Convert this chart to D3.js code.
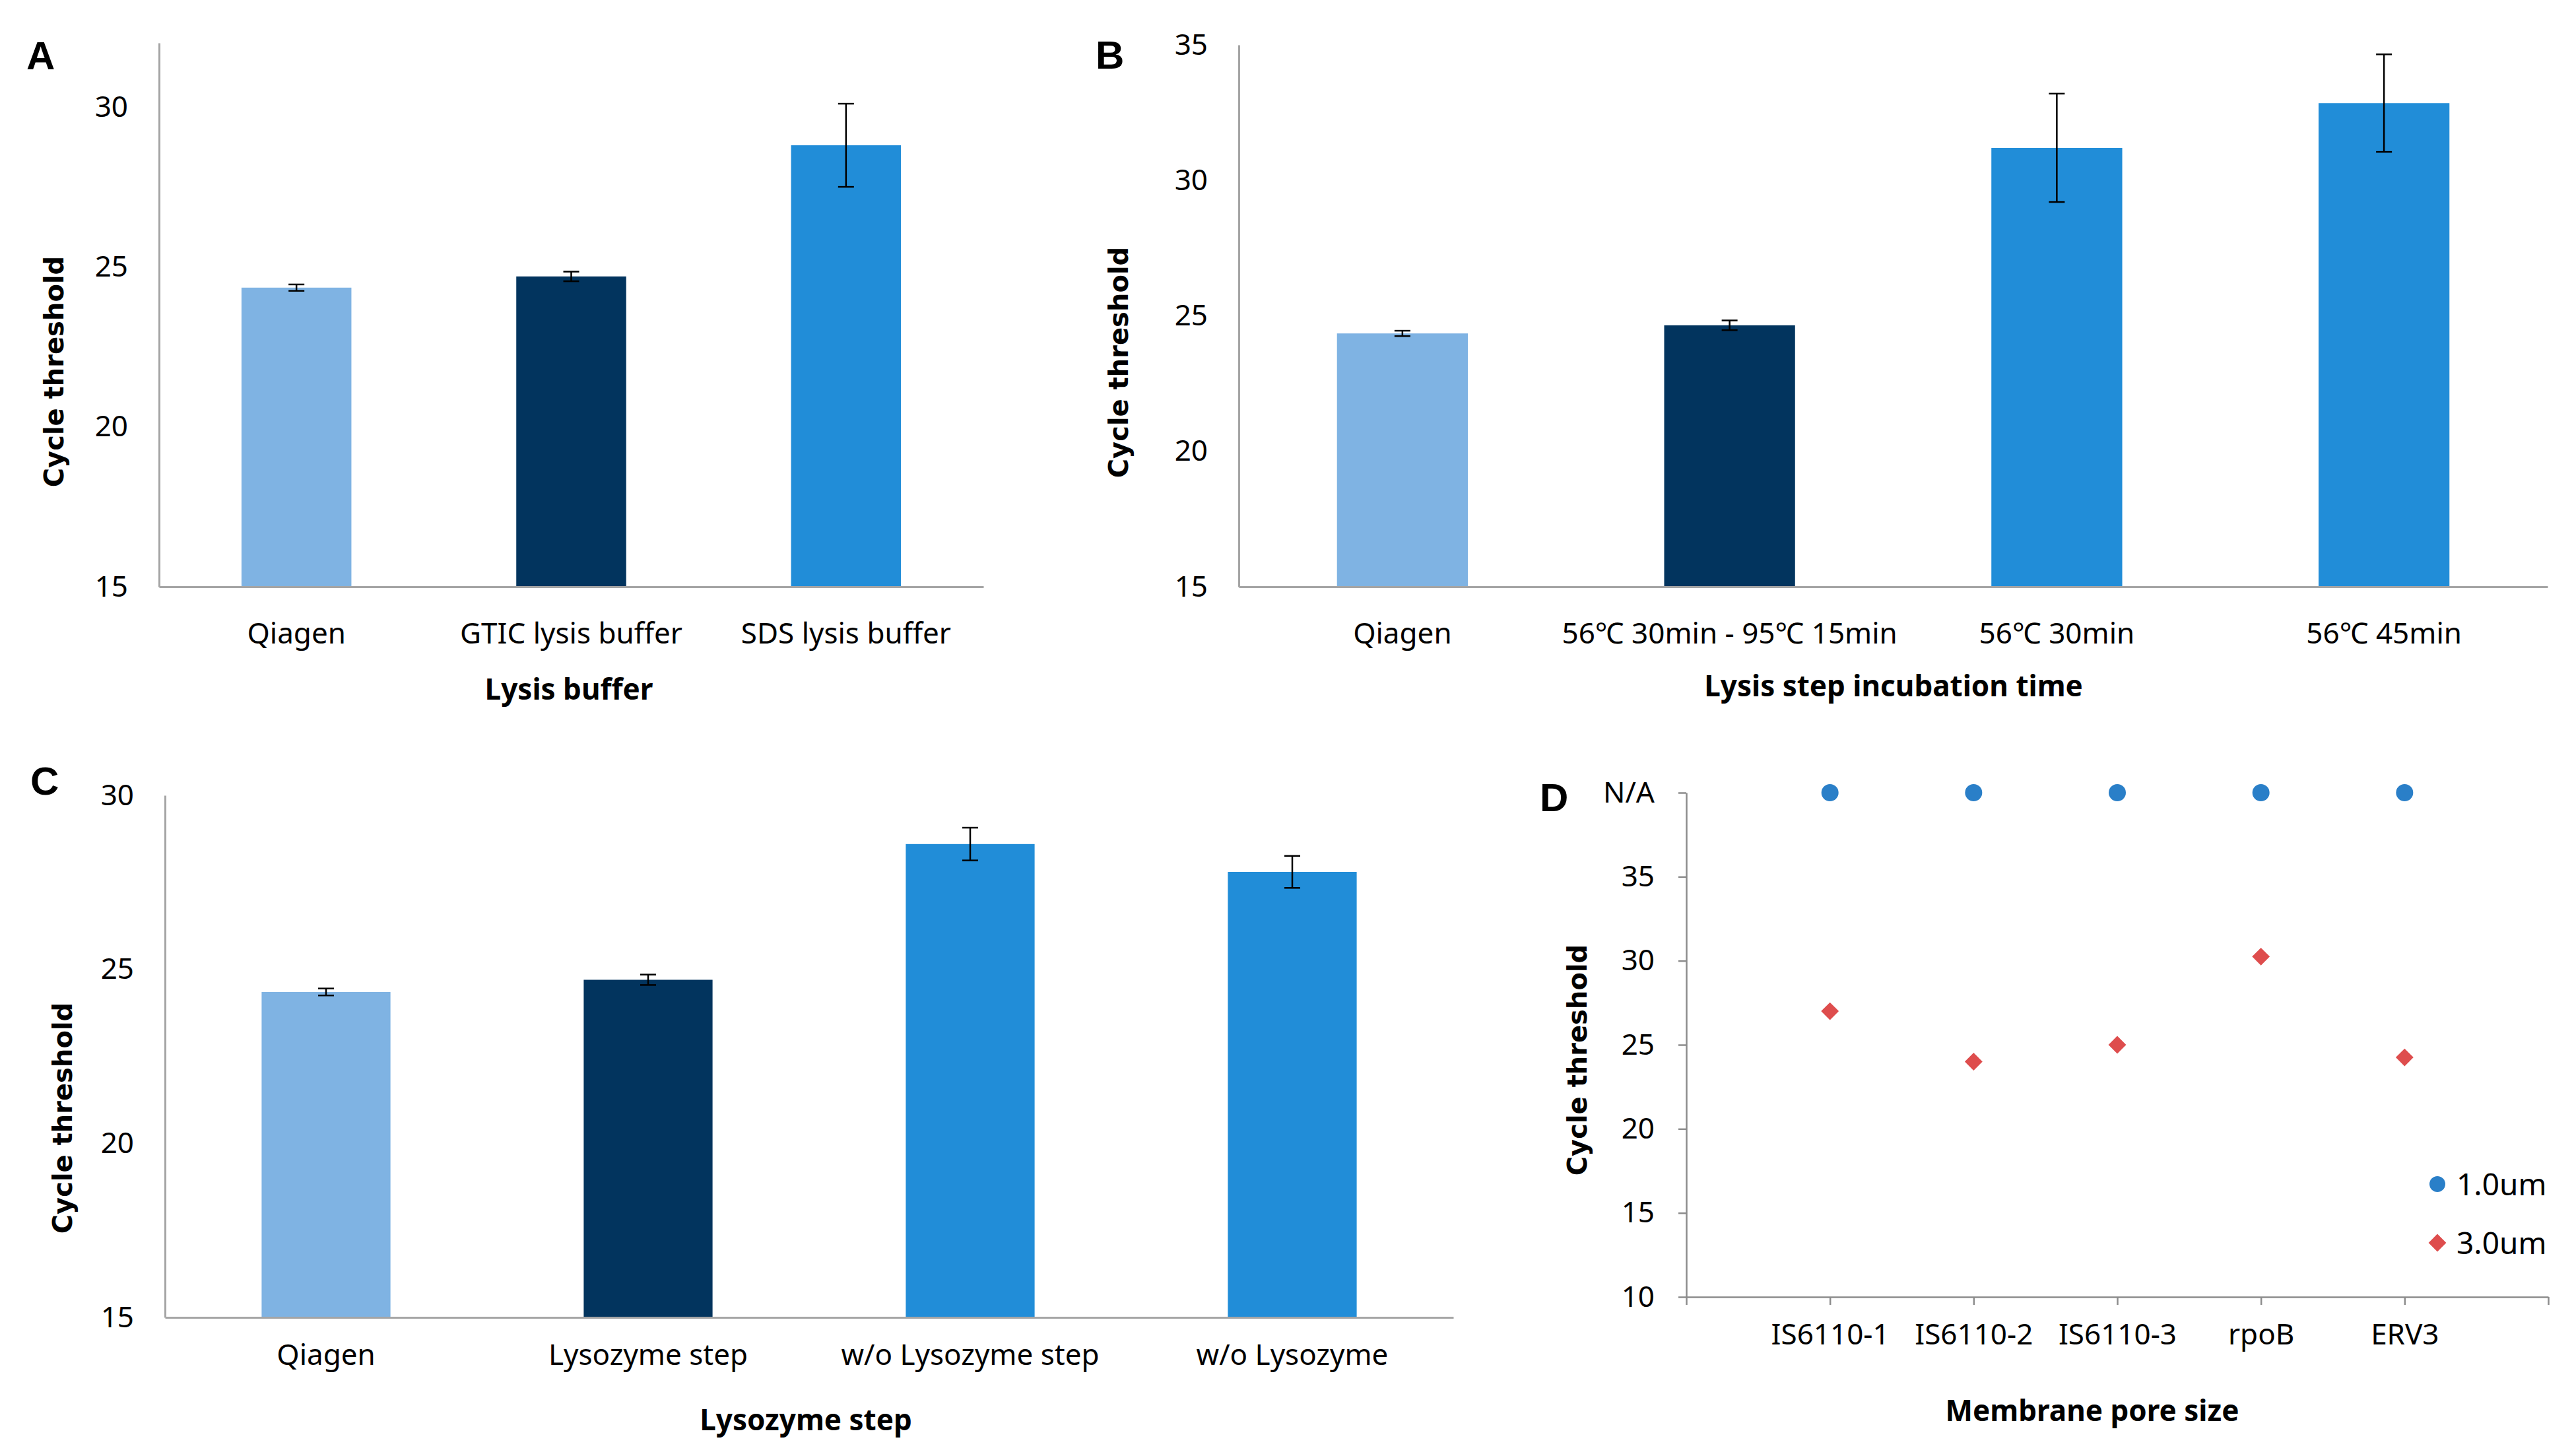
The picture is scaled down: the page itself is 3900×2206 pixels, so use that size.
<!DOCTYPE html>
<html>
<head>
<meta charset="utf-8">
<script src="https://cdn.jsdelivr.net/npm/d3@7"></script>
<style>
  body { margin: 0; background: #fff; }
  svg { display: block; }
  .tick text, .lbl { font-family: "Noto Sans", sans-serif; fill: #000; }
</style>
</head>
<body>
<svg id="fig" width="3900" height="2206"></svg>
<script>
// panel A - lysis buffer
var bufferCats = ["Qiagen", "GTIC lysis buffer", "SDS lysis buffer"];
var bufferCt = [24.35, 24.7, 28.8];
var bufferErr = [0.1, 0.15, 1.3];

// panel B - incubation time
var incubCats = ["Qiagen", "56\u2103 30min - 95\u2103 15min", "56\u2103 30min", "56\u2103 45min"];
var incubCt = [24.35, 24.65, 31.2, 32.85];
var incubErr = [0.1, 0.18, 2.0, 1.8];

// panel C - lysozyme step
var lysoCats = ["Qiagen", "Lysozyme step", "w/o Lysozyme step", "w/o Lysozyme"];
var lysoCt = [24.35, 24.7, 28.6, 27.8];
var lysoErr = [0.1, 0.15, 0.47, 0.46];

// panel D - membrane pore size (1.0um not detected -> N/A)
var poreTargets = ["IS6110-1", "IS6110-2", "IS6110-3", "rpoB", "ERV3"];
var pore1um = [null, null, null, null, null];
var pore3um = [27.0, 24.0, 25.0, 30.25, 24.25];
var poreTicks = [10, 15, 20, 25, 30, 35, 40];
var naLevel = 40;

var barColors = ["#7FB3E3", "#02345E", "#218DD8", "#218DD8"];

var svg = d3.select("#fig");

function barPanel(opt) {
    var g = svg.append("g");

    var x = d3.scaleBand()
        .domain(opt.cats)
        .range([opt.left, opt.right])
        .paddingInner(0.6)
        .paddingOuter(0.3);

    var y = d3.scaleLinear()
        .domain(opt.domain)
        .range([opt.bottom, opt.top]);

    // bars
    g.selectAll("rect.bar")
        .data(opt.cats)
        .enter().append("rect")
        .attr("class", "bar")
        .attr("x", function(d){ return x(d); })
        .attr("width", x.bandwidth())
        .attr("y", function(d, i){ return y(opt.values[i]); })
        .attr("height", function(d, i){ return y(opt.domain[0]) - y(opt.values[i]); })
        .attr("fill", function(d, i){ return barColors[i]; });

    // error bars
    var cap = 12;
    var eb = g.selectAll("g.err")
        .data(opt.cats)
        .enter().append("g")
        .attr("class", "err")
        .attr("stroke", "#000")
        .attr("stroke-width", 2.5);
    eb.append("line")
        .attr("x1", function(d){ return x(d) + x.bandwidth() / 2; })
        .attr("x2", function(d){ return x(d) + x.bandwidth() / 2; })
        .attr("y1", function(d, i){ return y(opt.values[i] + opt.errors[i]); })
        .attr("y2", function(d, i){ return y(opt.values[i] - opt.errors[i]); });
    [1, -1].forEach(function(sign){
        eb.append("line")
            .attr("x1", function(d){ return x(d) + x.bandwidth() / 2 - cap; })
            .attr("x2", function(d){ return x(d) + x.bandwidth() / 2 + cap; })
            .attr("y1", function(d, i){ return y(opt.values[i] + sign * opt.errors[i]); })
            .attr("y2", function(d, i){ return y(opt.values[i] + sign * opt.errors[i]); });
    });

    // y axis
    var yAxis = g.append("g")
        .attr("transform", "translate(" + opt.left + ",0)")
        .call(d3.axisLeft(y).tickValues(opt.ticks).tickSize(0).tickPadding(47));
    yAxis.selectAll("text").attr("font-size", 44);

    // x axis
    var xAxis = g.append("g")
        .attr("transform", "translate(0," + opt.bottom + ")")
        .call(d3.axisBottom(x).tickSize(0).tickSizeOuter(0));
    xAxis.selectAll("text")
        .attr("font-size", 44)
        .attr("y", opt.labelGap)
        .attr("dy", null);

    [yAxis, xAxis].forEach(function(a){
        a.select(".domain").attr("stroke", "#A5A5A5").attr("stroke-width", 3);
        a.attr("font-family", null);
    });

    // titles
    g.append("text")
        .attr("class", "lbl")
        .attr("x", opt.xTitle[0]).attr("y", opt.xTitle[1])
        .attr("text-anchor", "middle")
        .attr("font-size", 44).attr("font-weight", "bold")
        .text(opt.xLabel);

    g.append("text")
        .attr("transform", "translate(" + opt.yTitle[0] + "," + opt.yTitle[1] + ") rotate(-90)")
        .attr("text-anchor", "middle")
        .attr("dominant-baseline", "central")
        .attr("font-family", "DejaVu Sans, sans-serif")
        .attr("font-size", 40).attr("font-weight", "bold")
        .text("Cycle threshold");

    g.append("text")
        .attr("x", opt.letter[0]).attr("y", opt.letter[1])
        .attr("font-family", "Liberation Sans, Arial, sans-serif")
        .attr("font-size", 60).attr("font-weight", "bold")
        .text(opt.letterText);
}

barPanel({
    cats: bufferCats, values: bufferCt, errors: bufferErr,
    left: 241, right: 1490, top: 65, bottom: 889, labelGap: 86,
    domain: [15, 32], ticks: [15, 20, 25, 30],
    xLabel: "Lysis buffer", xTitle: [862, 1060],
    yTitle: [82, 563], letter: [40, 105], letterText: "A"
});

barPanel({
    cats: incubCats, values: incubCt, errors: incubErr,
    left: 1877, right: 3860, top: 68, bottom: 889, labelGap: 86,
    domain: [15, 35], ticks: [15, 20, 25, 30, 35],
    xLabel: "Lysis step incubation time", xTitle: [2869, 1055],
    yTitle: [1695, 549], letter: [1660, 104], letterText: "B"
});

barPanel({
    cats: lysoCats, values: lysoCt, errors: lysoErr,
    left: 250, right: 2202, top: 1205, bottom: 1996, labelGap: 72,
    domain: [15, 30], ticks: [15, 20, 25, 30],
    xLabel: "Lysozyme step", xTitle: [1221, 2167],
    yTitle: [95, 1694], letter: [46, 1204], letterText: "C"
});

// panel D - scatter
(function(){
    var left = 2555, right = 3861, top = 1201, bottom = 1965;
    var g = svg.append("g");

    var x = d3.scaleLinear().domain([0, poreTargets.length + 1]).range([left, right]);
    var y = d3.scaleLinear().domain([10, naLevel]).range([bottom, top]);

    var yAxis = g.append("g")
        .attr("transform", "translate(" + left + ",0)")
        .call(d3.axisLeft(y).tickValues(poreTicks)
            .tickFormat(function(d){ return d === naLevel ? "N/A" : d; })
            .tickSizeInner(12).tickSizeOuter(0).tickPadding(36));

    var xAxis = g.append("g")
        .attr("transform", "translate(0," + bottom + ")")
        .call(d3.axisBottom(x).ticks(poreTargets.length + 1)
            .tickFormat(function(d){ return poreTargets[d - 1] || ""; })
            .tickSizeInner(12).tickSizeOuter(0));
    xAxis.selectAll("text").attr("y", 72).attr("dy", null);

    [yAxis, xAxis].forEach(function(a){
        a.attr("font-family", null);
        a.selectAll("text").attr("font-size", 44);
        a.select(".domain").attr("stroke", "#8C8C8C").attr("stroke-width", 2.5);
        a.selectAll(".tick line").attr("stroke", "#8C8C8C").attr("stroke-width", 2.5);
    });

    // 1.0um: not detected, drawn on the N/A level
    g.selectAll("circle.p1")
        .data(pore1um)
        .enter().append("circle")
        .attr("cx", function(d, i){ return x(i + 1); })
        .attr("cy", function(d){ return y(d === null ? naLevel : d); })
        .attr("r", 13)
        .attr("fill", "#2A7FC8");

    var diamond = d3.symbol().type(d3.symbolSquare).size(360);
    g.selectAll("path.p3")
        .data(pore3um)
        .enter().append("path")
        .attr("d", diamond)
        .attr("transform", function(d, i){
            return "translate(" + x(i + 1) + "," + y(d) + ") rotate(45)";
        })
        .attr("fill", "#DE4D4D");

    // legend
    var legend = [
        {label: "1.0um", y: 1794, mark: "circle"},
        {label: "3.0um", y: 1883, mark: "diamond"}
    ];
    legend.forEach(function(l){
        if (l.mark === "circle") {
            g.append("circle").attr("cx", 3693).attr("cy", l.y).attr("r", 12).attr("fill", "#2A7FC8");
        } else {
            g.append("path").attr("d", diamond)
                .attr("transform", "translate(3693," + l.y + ") rotate(45)")
                .attr("fill", "#DE4D4D");
        }
        g.append("text").attr("class", "lbl")
            .attr("x", 3722).attr("y", l.y + 17)
            .attr("font-size", 46)
            .text(l.label);
    });

    g.append("text")
        .attr("class", "lbl")
        .attr("x", 3170).attr("y", 2153)
        .attr("text-anchor", "middle")
        .attr("font-size", 44).attr("font-weight", "bold")
        .text("Membrane pore size");

    g.append("text")
        .attr("transform", "translate(2390,1606) rotate(-90)")
        .attr("text-anchor", "middle")
        .attr("dominant-baseline", "central")
        .attr("font-family", "DejaVu Sans, sans-serif")
        .attr("font-size", 40).attr("font-weight", "bold")
        .text("Cycle threshold");

    g.append("text")
        .attr("x", 2333).attr("y", 1229)
        .attr("font-family", "Liberation Sans, Arial, sans-serif")
        .attr("font-size", 60).attr("font-weight", "bold")
        .text("D");
})();
</script>
</body>
</html>
